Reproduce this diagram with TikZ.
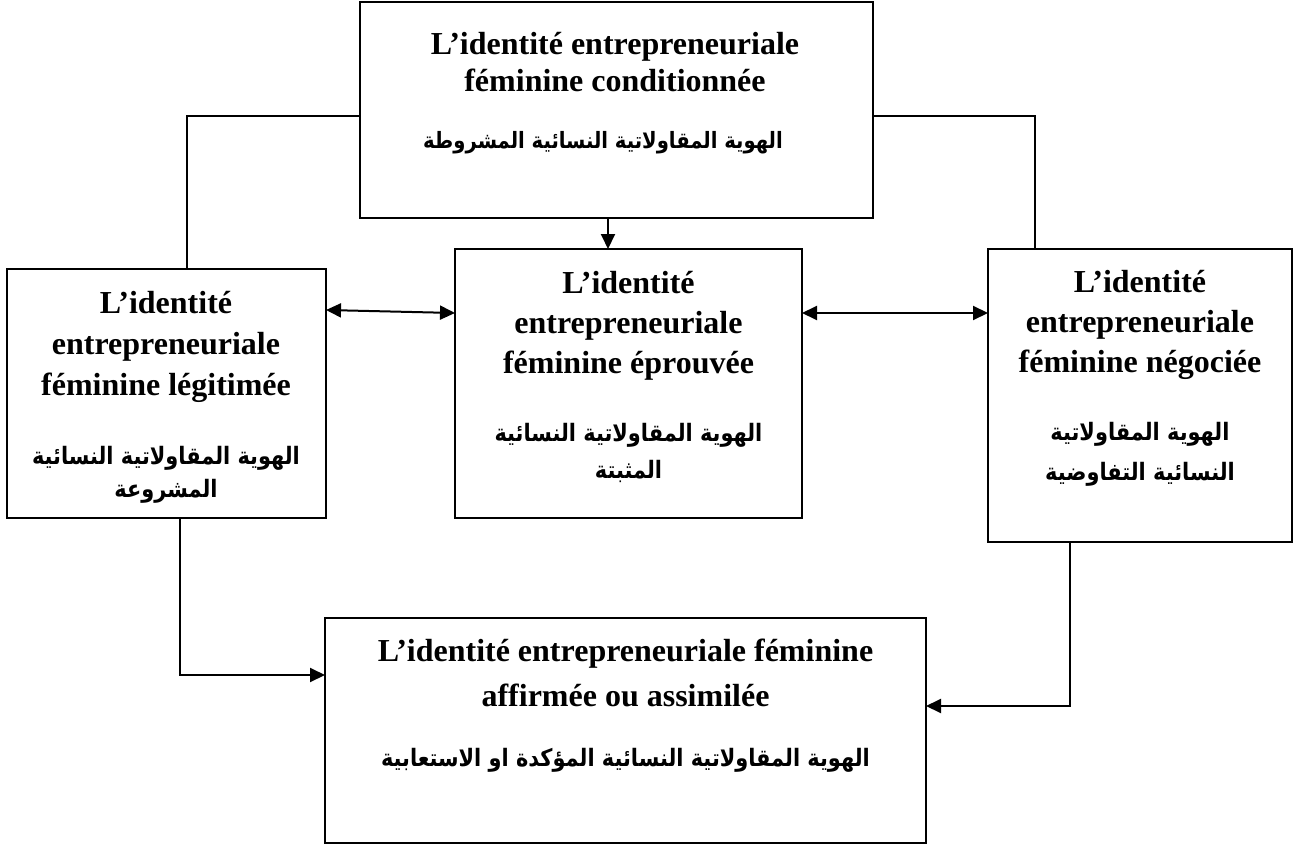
\documentclass[tikz,border=0pt]{standalone}
\usepackage{fontspec}
\setmainfont{Liberation Serif}
\newfontfamily\arabicfont[Script=Arabic, FakeStretch=0.87]{DejaVu Sans}
\TeXXeTstate=1
\usetikzlibrary{arrows.meta}
\tikzset{
  box/.style={draw, line width=2pt, inner sep=0pt, outer sep=0pt},
  fr/.style={font=\bfseries\fontsize{32}{40}\selectfont, align=center, inner sep=0pt},
  ar/.style={font=\arabicfont\bfseries\fontsize{24}{36}\selectfont, align=center, inner sep=0pt},
  link/.style={line width=2pt},
  arr/.style={line width=2pt, -{Triangle[length=15pt,width=14pt]}},
  darr/.style={line width=2pt, {Triangle[length=15pt,width=14pt]}-{Triangle[length=15pt,width=14pt]}}
}
\begin{document}
\begin{tikzpicture}[x=1pt,y=-1pt]
\useasboundingbox (0,0) rectangle (1295,845);
% boxes
\node[box, minimum width=513pt, minimum height=216pt] (T) at (616.5,110) {};
\node[box, minimum width=319pt, minimum height=249pt] (L) at (166.5,393.5) {};
\node[box, minimum width=347pt, minimum height=269pt] (M) at (628.5,383.5) {};
\node[box, minimum width=304pt, minimum height=293pt] (R) at (1140,395.5) {};
\node[box, minimum width=601pt, minimum height=225pt] (B) at (625.5,730.5) {};
% texts
\node[fr, font=\bfseries\fontsize{32}{37}\selectfont] (tT) at (615,62) {L’identité entrepreneuriale\\féminine conditionnée};
\node[ar, font=\arabicfont\bfseries\fontsize{22.5}{36}\selectfont] (aT) at (603,143) {\beginR الهوية المقاولاتية النسائية المشروطة\endR};
\node[fr, font=\bfseries\fontsize{32}{41}\selectfont] (tL) at (166,347) {L’identité\\entrepreneuriale\\féminine légitimée};
\node[ar, font=\arabicfont\bfseries\fontsize{24}{33}\selectfont] (aL) at (166,475) {\beginR الهوية  المقاولاتية النسائية\endR\\\beginR المشروعة\endR};
\node[fr] (tM) at (628.5,326) {L’identité\\entrepreneuriale\\féminine éprouvée};
\node[ar, font=\arabicfont\bfseries\fontsize{24}{37}\selectfont] (aM) at (628.5,453) {\beginR الهوية المقاولاتية النسائية\endR\\\beginR المثبتة\endR};
\node[fr] (tR) at (1140,325) {L’identité\\entrepreneuriale\\féminine négociée};
\node[ar, font=\arabicfont\bfseries\fontsize{24}{40}\selectfont] (aR) at (1140,454) {\beginR الهوية المقاولاتية\endR\\\beginR النسائية التفاوضية\endR};
\node[fr, font=\bfseries\fontsize{32}{45}\selectfont] (tB) at (625.5,673) {L’identité entrepreneuriale féminine\\affirmée ou assimilée};
\node[ar] (aB) at (625.5,760) {\beginR الهوية المقاولاتية النسائية المؤكدة او الاستعابية\endR};
% connectors
\draw[link] ([yshift=-6pt]T.west) -| ([xshift=20.5pt]L.north);
\draw[link] ([yshift=-6pt]T.east) -| ([xshift=-105pt]R.north);
\draw[arr] ([xshift=-8.5pt]T.south) -- ([xshift=-8.5pt]T.south |- M.north);
\draw[darr] ([yshift=83.5pt]L.east) -- ([yshift=70.5pt]M.west);
\draw[darr] ([yshift=70.5pt]M.east) -- ([yshift=82.5pt]R.west);
\draw[arr] ([xshift=13.5pt]L.south) |- ([yshift=55.5pt]B.west);
\draw[arr] ([xshift=-70pt]R.south) |- ([yshift=24.5pt]B.east);
\end{tikzpicture}
\end{document}
